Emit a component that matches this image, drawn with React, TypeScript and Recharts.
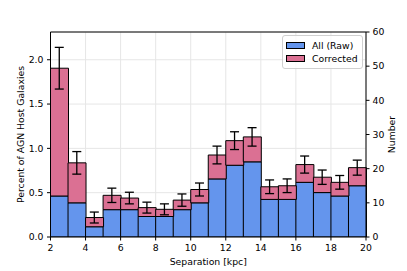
import { Bar, CartesianGrid, ComposedChart, ErrorBar, Legend, ReferenceLine, Scatter, XAxis, YAxis } from "recharts";

// bin centres in kpc (1 kpc wide bins, 2..20)
const SEPARATION = [2.5, 3.5, 4.5, 5.5, 6.5, 7.5, 8.5, 9.5, 10.5, 11.5, 12.5, 13.5, 14.5, 15.5, 16.5, 17.5, 18.5, 19.5];
// raw pair counts per bin
const RAW = [12, 10, 3, 8, 8, 6, 6, 8, 10, 17, 21, 22, 11, 11, 16, 13, 12, 15];
// completeness-corrected counts per bin (stack top)
const CORRECTED = [49.4, 21.7, 5.7, 12.2, 11.4, 8.6, 8.1, 10.8, 13.9, 24.0, 28.2, 29.3, 14.7, 15.0, 21.2, 17.5, 16.0, 20.3];
// 1-sigma errors on the corrected counts
const ERR = [6.1, 3.3, 1.6, 2.1, 1.7, 1.6, 1.6, 1.8, 1.9, 2.6, 2.6, 2.7, 2.0, 2.0, 2.5, 2.1, 2.0, 2.2];

const X_TICKS = [2, 4, 6, 8, 10, 12, 14, 16, 18, 20];
const COUNT_TICKS = [0, 10, 20, 30, 40, 50, 60];
const PCT_TICKS = [0, 0.5, 1.0, 1.5, 2.0];
// the left axis is the same bars expressed as percent of AGN hosts
const COUNT_MAX = 60;
const PCT_MAX = 2.313;

const BLUE = "#6495ed";
const PINK = "#db7093";
const FONT = "'DejaVu Sans', sans-serif";
const FS = 9.3;

const data = SEPARATION.map((sep, i) => ({
  sep,
  raw: RAW[i],
  extra: CORRECTED[i] - RAW[i],
  total: CORRECTED[i],
  err: ERR[i],
}));

const tickStyle = { fontSize: FS, fontFamily: FONT, fill: "#000" };

function LegendBox({ payload }: { payload?: Array<{ value?: string; color?: string; dataKey?: string }> }) {
  const items = (payload ?? []).filter((p) => p.dataKey === "raw" || p.dataKey === "extra");
  return (
    <div
      style={{
        border: "1px solid #d0d0d0",
        borderRadius: 3,
        background: "rgba(255,255,255,0.8)",
        padding: "3px 4px 3px 3px",
        fontFamily: FONT,
        fontSize: FS,
        lineHeight: "13px",
      }}
    >
      {items.map((p) => (
        <div key={String(p.dataKey)} style={{ display: "flex", alignItems: "center", whiteSpace: "nowrap" }}>
          <span
            style={{
              display: "inline-block",
              width: 17,
              height: 5,
              background: p.color,
              border: "1px solid #000",
              marginRight: 7,
            }}
          />
          <span>{p.value}</span>
        </div>
      ))}
    </div>
  );
}

function SideLabel({ viewBox, text, dx }: { viewBox?: any; text: string; dx: number }) {
  if (!viewBox) return null;
  const x = viewBox.x + dx;
  const y = viewBox.y + viewBox.height / 2;
  return (
    <text
      x={x}
      y={y}
      transform={`rotate(-90 ${x} ${y})`}
      textAnchor="middle"
      dominantBaseline="central"
      fontSize={FS}
      fontFamily={FONT}
      fill="#000"
    >
      {text}
    </text>
  );
}

export default function App() {
  return (
    <div>
      <style>{"body{margin:0}"}</style>
      <ComposedChart
        width={407}
        height={271}
        data={data}
        margin={{ top: 32, right: 0, bottom: 0, left: 0 }}
        barCategoryGap={0}
        barGap={0}
      >
        <CartesianGrid yAxisId="pct" stroke="#e6e6e6" strokeWidth={1} />
        <XAxis
          dataKey="sep"
          type="number"
          domain={[2, 20]}
          ticks={X_TICKS}
          height={34}
          tick={tickStyle}
          tickSize={3.5}
          tickMargin={4.3}
          stroke="#000"
          label={{ value: "Separation [kpc]", position: "insideBottom", offset: 6, style: tickStyle }}
        />
        <YAxis
          yAxisId="pct"
          orientation="left"
          type="number"
          domain={[0, PCT_MAX]}
          allowDataOverflow
          ticks={PCT_TICKS}
          width={50.5}
          tick={tickStyle}
          tickSize={3.5}
          tickMargin={3.5}
          tickFormatter={(v: number) => v.toFixed(1)}
          stroke="#000"
          label={{ content: (p: any) => <SideLabel viewBox={p.viewBox} text="Percent of AGN Host Galaxies" dx={20.5} /> }}
        />
        <YAxis
          yAxisId="num"
          orientation="right"
          type="number"
          domain={[0, COUNT_MAX]}
          allowDataOverflow
          ticks={COUNT_TICKS}
          width={41}
          tick={tickStyle}
          tickSize={3.5}
          tickMargin={3}
          stroke="#000"
          label={{ content: (p: any) => <SideLabel viewBox={p.viewBox} text="Number" dx={25.5} /> }}
        />
        <ReferenceLine yAxisId="num" y={COUNT_MAX} stroke="#000" strokeWidth={1} />
        <Bar
          yAxisId="num"
          dataKey="raw"
          name="All (Raw)"
          stackId="h"
          fill={BLUE}
          stroke="#000"
          strokeWidth={1}
          isAnimationActive={false}
        />
        <Bar
          yAxisId="num"
          dataKey="extra"
          name="Corrected"
          stackId="h"
          fill={PINK}
          stroke="#000"
          strokeWidth={1}
          isAnimationActive={false}
        />
        <Scatter
          yAxisId="num"
          dataKey="total"
          legendType="none"
          shape={() => <g />}
          isAnimationActive={false}
        >
          <ErrorBar dataKey="err" direction="y" width={4.5} stroke="#000" strokeWidth={1.3} />
        </Scatter>
        <Legend
          layout="vertical"
          align="center"
          verticalAlign="middle"
          wrapperStyle={{ top: 35, left: 282, width: "auto" }}
          content={(p: any) => <LegendBox payload={p.payload} />}
        />
      </ComposedChart>
    </div>
  );
}
